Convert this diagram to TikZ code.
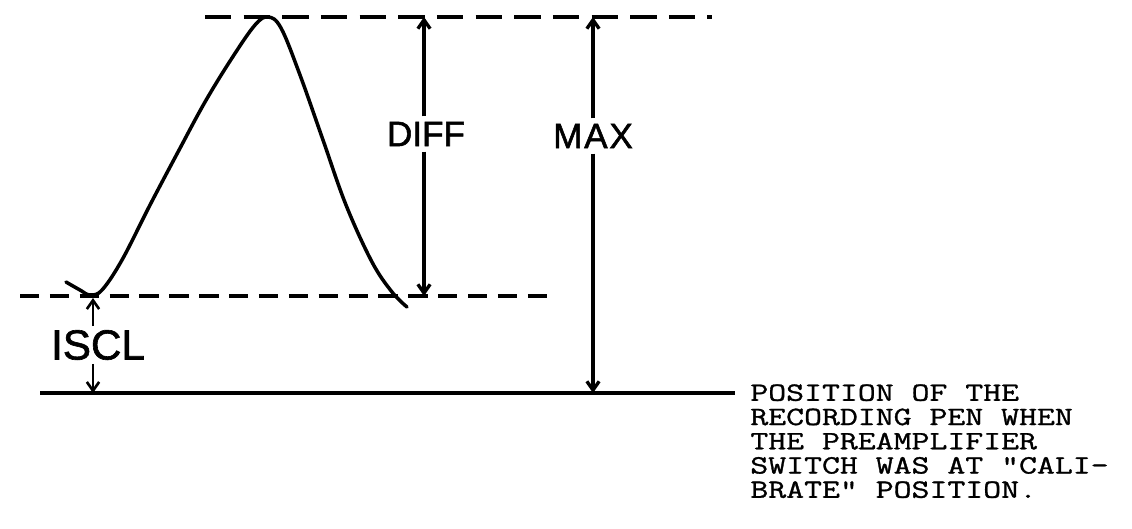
\documentclass[tikz,border=0pt]{standalone}
\usepackage{fontspec}
\setmainfont{Liberation Sans}
\newfontfamily\typewriter[FakeStretch=1.32,FakeBold=1.2]{Latin Modern Mono}
\newfontfamily\lettering[FakeBold=1.5]{Liberation Sans}
\usetikzlibrary{positioning,arrows.meta}

\begin{document}
\begin{tikzpicture}[
    x=0.02cm, y=-0.02cm,
    level/.style={line width=2pt, dash pattern=on 15pt off 7pt},
    shortlevel/.style={line width=1.9pt, dash pattern=on 11pt off 6pt},
    base/.style={line width=2.2pt},
    dim/.style={line width=1.9pt, -{Straight Barb[length=5pt,width=7pt]}},
    lbl/.style={font=\lettering\fontsize{20}{24}\selectfont, inner sep=3pt},
    note/.style={font=\typewriter\fontsize{15}{13.8}\selectfont, align=left,
        inner sep=0pt, anchor=north west}
]
\useasboundingbox (0,0) rectangle (1132,528);

% Reference levels
\coordinate (top-l) at (205,17);
\coordinate (top-r) at (712,17);
\coordinate (mid-l) at (20,296);
\coordinate (mid-r) at (550,296);
\coordinate (base-l) at (40,393);
\coordinate (base-r) at (735,393);

\draw[level] (top-l) -- (top-r);
\draw[shortlevel] (mid-l) -- (mid-r);
\draw[base] (base-l) -- (base-r);

% Recorded trace
\draw[line width=2pt, line cap=round] plot[smooth, tension=0.6] coordinates {
    (66,282) (80,290) (90,295) (102,290) (122,260) (150,205) (178,152)
    (205,102) (232,58) (255,25) (268,17) (281,28) (300,75) (323,140)
    (346,205) (372,262) (392,292) (407,307)};

% Labels
\node[lbl] (diff) at (426,134) {DIFF};
\node[lbl] (max) at (593,136) {M\kern1ptA\kern1ptX};
\node[lbl, font=\lettering\fontsize{24}{28}\selectfont, inner sep=2pt] (iscl) at (98,345) {ISCL};

% Dimension arrows
\coordinate (diff-t) at (424,17);
\coordinate (diff-b) at (424,296);
\coordinate (max-t) at (593,17);
\coordinate (max-b) at (593,393);
\coordinate (iscl-t) at (93,298);
\coordinate (iscl-b) at (93,393);

\draw[dim] (diff.north -| diff-t) -- (diff-t);
\draw[dim] (diff.south -| diff-b) -- (diff-b);
\draw[dim] (max.north -| max-t) -- (max-t);
\draw[dim] (max.south -| max-b) -- (max-b);
\draw[dim, line width=1.5pt] (iscl.north -| iscl-t) -- (iscl-t);
\draw[dim, line width=1.5pt] (iscl.south -| iscl-b) -- (iscl-b);

% Note on the base line
\node[note] (pen) at (750,384) {POSITION OF THE\\RECORDING PEN WHEN\\THE PREAMPLIFIER\\SWITCH WAS AT "CALI-\\BRATE" POSITION.};

\end{tikzpicture}
\end{document}
